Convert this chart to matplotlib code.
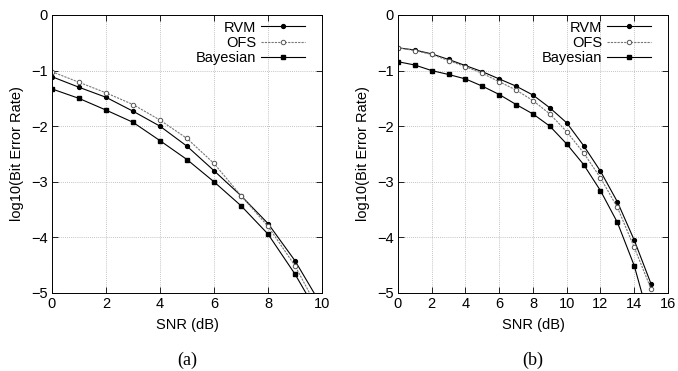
import numpy as np
import matplotlib.pyplot as plt

plt.rcParams['font.family'] = ['Liberation Sans', 'DejaVu Sans']

# ------------------------------------------------------------
# Data (log10 BER vs SNR)
# ------------------------------------------------------------
snr_a = [0, 1, 2, 3, 4, 5, 6, 7, 8, 9, 10]
rvm_a = [-1.11, -1.30, -1.48, -1.73, -2.00, -2.36, -2.80, -3.25, -3.75, -4.42, -5.24]
ofs_a = [-1.02, -1.21, -1.40, -1.61, -1.89, -2.22, -2.67, -3.25, -3.80, -4.51, -5.42]
bay_a = [-1.33, -1.50, -1.71, -1.93, -2.26, -2.60, -3.00, -3.43, -3.94, -4.66, -5.50]

snr_b = [0, 1, 2, 3, 4, 5, 6, 7, 8, 9, 10, 11, 12, 13, 14, 15]
rvm_b = [-0.59, -0.63, -0.70, -0.80, -0.91, -1.02, -1.15, -1.28, -1.44, -1.67,
         -1.94, -2.35, -2.81, -3.36, -4.05, -4.84]
ofs_b = [-0.59, -0.64, -0.71, -0.82, -0.93, -1.05, -1.20, -1.35, -1.54, -1.78,
         -2.10, -2.48, -2.93, -3.46, -4.18, -4.93]
bay_b = [-0.84, -0.90, -1.00, -1.07, -1.15, -1.28, -1.43, -1.61, -1.78, -2.00,
         -2.32, -2.69, -3.16, -3.73, -4.51, -5.60]

panels = [
    (snr_a, rvm_a, ofs_a, bay_a, 10, "(a)"),
    (snr_b, rvm_b, ofs_b, bay_b, 16, "(b)"),
]

fig = plt.figure(figsize=(6.78, 3.71), dpi=100)
W, H = 678, 371
boxes = [(52, 15, 270, 278), (398, 15, 270, 278)]

for (snr, rvm, ofs, bay, xmax, tag), (x0, y0, w, h) in zip(panels, boxes):
    ax = fig.add_axes([x0 / W, 1 - (y0 + h) / H, w / W, h / H])
    ax.plot(snr, rvm, color="black", lw=0.8, marker="o", ms=2.8,
            mfc="black", mec="black", label="RVM")
    ax.plot(snr, ofs, color="#777777", lw=0.8, ls=(0, (2, 1)), marker="o", ms=3.2,
            mfc="white", mec="#555555", mew=0.7, label="OFS")
    ax.plot(snr, bay, color="black", lw=0.8, marker="s", ms=3.2,
            mfc="black", mec="black", label="Bayesian")

    ax.set_xlim(0, xmax)
    ax.set_ylim(-5, 0)
    ax.set_xticks(np.arange(0, xmax + 1, 2))
    ax.set_yticks([0, -1, -2, -3, -4, -5])
    ax.grid(True, color="#b0b0b0", ls=(0, (1, 1.5)), lw=0.6)
    ax.tick_params(direction="in", top=True, right=True, labelsize=10.5,
                   length=4, width=0.6, pad=3)
    for s in ax.spines.values():
        s.set_linewidth(0.7)
    ax.set_xlabel("SNR (dB)", fontsize=10.5, labelpad=5)
    ax.set_ylabel("log10(Bit Error Rate)", fontsize=10.5, labelpad=5)

    ax.legend(loc="upper right", bbox_to_anchor=(1 - 17 / w, 0.98),
              frameon=False, markerfirst=False, fontsize=10.5,
              handlelength=3.0, handletextpad=0.35, labelspacing=0.08,
              borderaxespad=0, borderpad=0)

    fig.text((x0 + w / 2) / W, 1 - 360 / H, tag, ha="center", va="center",
             fontsize=13, family="Liberation Serif")

fig.savefig("out.png", dpi=100)
